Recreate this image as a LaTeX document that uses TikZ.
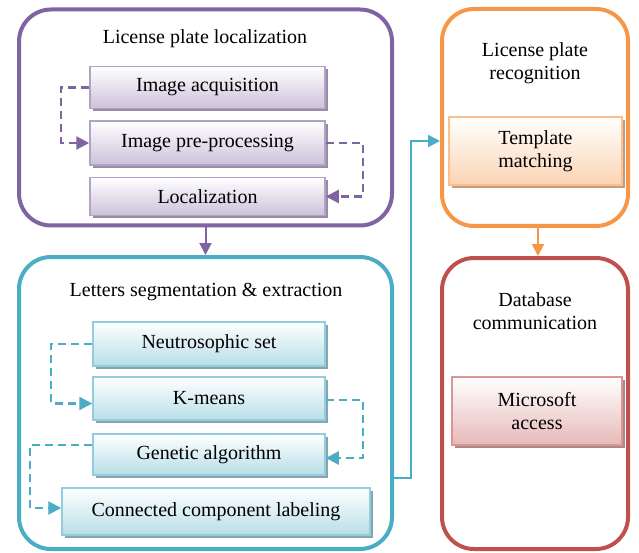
\documentclass[tikz,border=0pt]{standalone}
\usepackage{fontspec}
\setmainfont{Liberation Serif}
\usetikzlibrary{arrows.meta,shadows}

\definecolor{purp}{HTML}{8064A2}
\definecolor{purpfill}{HTML}{CCC1DA}
\definecolor{purpline}{HTML}{B3A2C7}
\definecolor{cyn}{HTML}{4BACC6}
\definecolor{cynfill}{HTML}{B7DEE8}
\definecolor{cynline}{HTML}{93CDDD}
\definecolor{orng}{HTML}{F79646}
\definecolor{orngfill}{HTML}{FBD4B4}
\definecolor{orngline}{HTML}{FAC090}
\definecolor{redd}{HTML}{C0504D}
\definecolor{reddfill}{HTML}{E6B9B8}
\definecolor{reddline}{HTML}{D99694}

\tikzset{
  every node/.append style={font=\rmfamily\fontsize{20}{23}\selectfont},
  groupbox/.style={draw=#1, line width=4pt, rounded corners=32pt, inner sep=0pt},
  stepbox/.style 2 args={draw=#1, line width=1.5pt, top color=white, bottom color=#2,
    align=center, inner sep=2pt,
    drop shadow={shadow xshift=3pt, shadow yshift=-3pt, fill=#1!70!black, opacity=0.8}},
  heading/.style={align=center},
  flow/.style={draw=#1, line width=2.2pt, dash pattern=on 8pt off 5pt,
    -{Triangle[length=13pt,width=13pt]}},
  link/.style={draw=#1, line width=2pt, -{Triangle[length=12pt,width=12pt]}}
}

\begin{document}
\begin{tikzpicture}[x=1pt, y=-1pt]
  \useasboundingbox (0,0) rectangle (639,553);

  % group frames
  \node[groupbox=purp, minimum width=373, minimum height=216] (loc) at (205.5,117.5) {};
  \node[groupbox=cyn, minimum width=373, minimum height=292] (seg) at (205.5,403) {};
  \node[groupbox=orng, minimum width=186, minimum height=217] (rec) at (535,117.5) {};
  \node[groupbox=redd, minimum width=186, minimum height=291] (db) at (535,403.5) {};

  % headings
  \node[heading] (loctitle) at (205,39) {License plate localization};
  \node[heading] (segtitle) at (206,292) {Letters segmentation \& extraction};
  \node[heading] (rectitle) at (535,63) {License plate\\recognition};
  \node[heading] (dbtitle) at (535,311) {Database\\communication};

  % steps
  \node[stepbox={purpline}{purpfill}, minimum width=235, minimum height=42] (ia) at (207.5,87.5) {Image acquisition};
  \node[stepbox={purpline}{purpfill}, minimum width=235, minimum height=44] (ipp) at (207.5,143) {Image pre-processing};
  \node[stepbox={purpline}{purpfill}, minimum width=235, minimum height=38] (lz) at (207.5,196.5) {Localization};

  \node[stepbox={cynline}{cynfill}, minimum width=232, minimum height=44] (ns) at (209,344) {Neutrosophic set};
  \node[stepbox={cynline}{cynfill}, minimum width=232, minimum height=43] (km) at (209,398.5) {K-means};
  \node[stepbox={cynline}{cynfill}, minimum width=232, minimum height=41] (ga) at (209,454.5) {Genetic algorithm};
  \node[stepbox={cynline}{cynfill}, minimum width=308, minimum height=47] (ccl) at (216,511.5) {Connected component labeling};

  \node[stepbox={orngline}{orngfill}, minimum width=173, minimum height=68] (tm) at (535.5,151) {Template\\matching};
  \node[stepbox={reddline}{reddfill}, minimum width=170, minimum height=68] (ma) at (537,411) {Microsoft\\access};

  % dashed step links
  \draw[flow=purp] (ia.west) -- ++(-28,0) |- (ipp.west);
  \draw[flow=purp] (ipp.east) -- ++(37,0) |- (lz.east);
  \draw[flow=cyn] (ns.west) -- ++(-41,0) |- ([yshift=-5pt]km.west);
  \draw[flow=cyn] ([yshift=-1.5pt]km.east) -- ++(37,0) |- ([yshift=-3.5pt]ga.east);
  \draw[flow=cyn] ([yshift=9.5pt]ga.west) -- ++(-62,0) |- ([yshift=3.5pt]ccl.west);

  % stage links
  \coordinate (bend) at (411,141);
  \draw[link=purp] (loc.south) -- (loc.south |- seg.north);
  \draw[link=orng] ([xshift=3pt]rec.south) -- ([xshift=3pt]rec.south |- db.north);
  \draw[link=cyn] ([yshift=-75pt]seg.east) -| (bend) -- (bend -| rec.west);
\end{tikzpicture}
\end{document}
